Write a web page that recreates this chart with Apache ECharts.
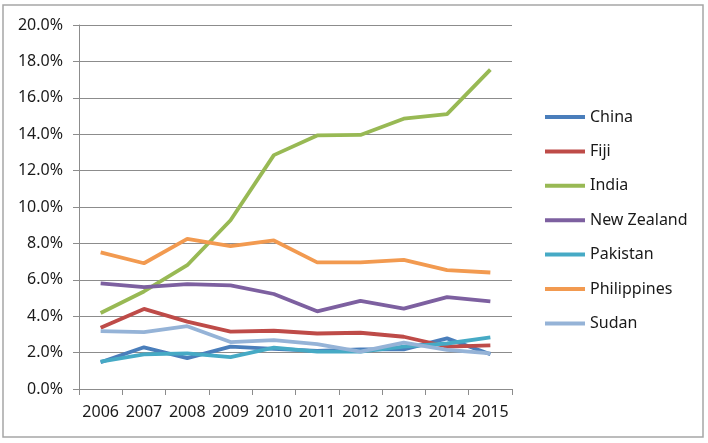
<!DOCTYPE html>
<html>
<head>
<meta charset="utf-8">
<script src="https://cdn.jsdelivr.net/npm/echarts@6/dist/echarts.min.js"></script>
<style>
html,body{margin:0;padding:0;background:#fff;}
#chart{width:708px;height:443px;}
</style>
</head>
<body>
<div id="chart"></div>
<script>
var years = ['2006','2007','2008','2009','2010','2011','2012','2013','2014','2015'];
var china       = [1.47, 2.29, 1.70, 2.33, 2.20, 2.10, 2.18, 2.18, 2.78, 1.91];
var fiji        = [3.36, 4.40, 3.70, 3.15, 3.20, 3.05, 3.09, 2.87, 2.33, 2.40];
var india       = [4.18, 5.36, 6.80, 9.27, 12.85, 13.93, 13.96, 14.85, 15.10, 17.55];
var newZealand  = [5.80, 5.60, 5.76, 5.69, 5.22, 4.27, 4.84, 4.42, 5.05, 4.82];
var pakistan    = [1.50, 1.90, 1.96, 1.75, 2.27, 2.05, 2.05, 2.33, 2.50, 2.84];
var philippines = [7.51, 6.91, 8.25, 7.85, 8.16, 6.96, 6.96, 7.09, 6.53, 6.40];
var sudan       = [3.18, 3.13, 3.45, 2.58, 2.69, 2.47, 2.05, 2.55, 2.15, 1.96];
var yTicks = [0, 20, 2];

var seriesDefs = [
  ['China', china, '#4A7EBB'],
  ['Fiji', fiji, '#BE4B48'],
  ['India', india, '#98B954'],
  ['New Zealand', newZealand, '#7D60A0'],
  ['Pakistan', pakistan, '#46AAC5'],
  ['Philippines', philippines, '#F29A50'],
  ['Sudan', sudan, '#95B3D7']
];

var chart = echarts.init(document.getElementById('chart'));
var font = 'Noto Sans';
chart.setOption({
  animation: false,
  backgroundColor: '#fff',
  graphic: [{
    type: 'rect', shape: {x: 3, y: 5, width: 700, height: 432},
    style: {fill: 'none', stroke: '#a6a6a6', lineWidth: 1.5}, z: -1
  }],
  grid: {left: 79, right: 196, top: 25, bottom: 54},
  legend: {
    orient: 'vertical', left: 540, top: 102, itemGap: 14.4,
    icon: 'rect', itemWidth: 40, itemHeight: 4,
    textStyle: {fontFamily: font, fontSize: 16, color: '#1a1a1a', lineHeight: 20},
    data: seriesDefs.map(function(s){return s[0];})
  },
  xAxis: {
    type: 'category', data: years, boundaryGap: true,
    axisLine: {lineStyle: {color: '#8c8c8c', width: 1}},
    axisTick: {show: true, length: 6, lineStyle: {color: '#8c8c8c'}},
    axisLabel: {fontFamily: font, fontSize: 16, color: '#1a1a1a', margin: 15, interval: 0}
  },
  yAxis: {
    type: 'value', min: yTicks[0], max: yTicks[1], interval: yTicks[2],
    axisLine: {show: true, lineStyle: {color: '#8c8c8c', width: 1}},
    axisTick: {show: true, length: 6, lineStyle: {color: '#8c8c8c'}},
    splitLine: {lineStyle: {color: '#8c8c8c', width: 1}},
    axisLabel: {fontFamily: font, fontSize: 16, color: '#1a1a1a', margin: 16,
      formatter: function(v){return v.toFixed(1) + '%';}}
  },
  series: seriesDefs.map(function(s){
    return {
      name: s[0], type: 'line', data: s[1], symbol: 'none',
      lineStyle: {color: s[2], width: 3.8}, itemStyle: {color: s[2]}
    };
  })
});
</script>
</body>
</html>
